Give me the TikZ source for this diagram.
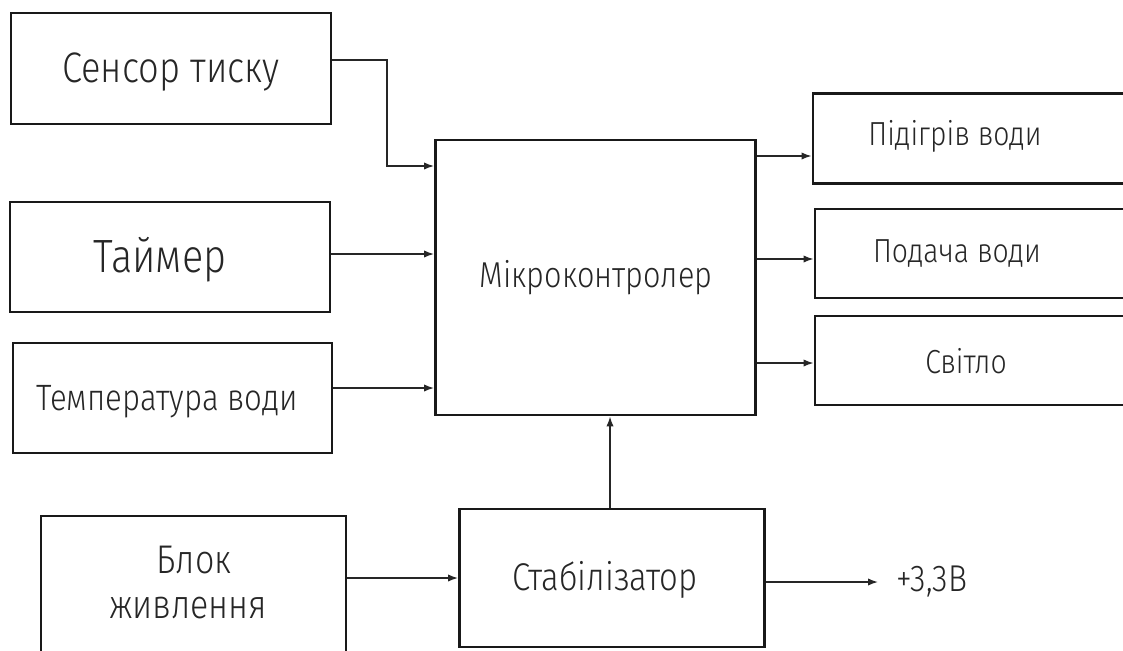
\documentclass[tikz,border=0pt]{standalone}
\usepackage{fontspec}
\setmainfont{Fira Sans}[UprightFont={* Light}, FakeStretch=0.85]
\usetikzlibrary{arrows.meta}
\begin{document}
\begin{tikzpicture}[x=0.75pt, y=-0.75pt,
  box/.style={draw=black!90, line width=2.2pt, rectangle, inner sep=0pt},
  conn/.style={draw=black!85, line width=1.1pt, -{Latex[length=7.5pt,width=5.5pt]}},
  lbl/.style={anchor=base, inner sep=0pt, text=black!85}]
  \clip (0,0) rectangle (1123,650);
  \fill[white] (0,0) rectangle (1123,650);

  % input blocks
  \node[box, minimum width=240pt, minimum height=83.25pt] (sensor) at (171,68.5) {};
  \node[box, minimum width=240pt, minimum height=82.5pt] (timer) at (170,257) {};
  \node[box, minimum width=239.25pt, minimum height=82.5pt] (temp) at (172.5,398) {};

  % controller
  \node[box, minimum width=240pt, minimum height=206.25pt] (mcu) at (595.5,277.5) {};

  % output blocks (running past the right edge)
  \node[box, minimum width=247.5pt, minimum height=67.5pt] (heat) at (978,138.5) {};
  \node[box, minimum width=246pt, minimum height=66.75pt] (feed) at (979,253.5) {};
  \node[box, minimum width=246pt, minimum height=66.75pt] (light) at (979,360.5) {};

  % power supply chain
  \node[box, minimum width=228.75pt, minimum height=120pt] (psu) at (193.5,596) {};
  \node[box, minimum width=228.75pt, minimum height=103.5pt] (stab) at (612,578) {};

  % labels
  \node[lbl, font=\fontsize{32}{36}\selectfont] (tsensor) at (171,82) {Сенсор тиску};
  \node[lbl, font=\fontsize{35}{40}\selectfont] (ttimer) at (160,272) {Таймер};
  \node[lbl, font=\fontsize{27.5}{32}\selectfont] (ttemp) at (167,410) {Температура води};
  \node[lbl, font=\fontsize{27}{31}\selectfont] (tmcu) at (596,287) {Мікроконтролер};
  \node[lbl, font=\fontsize{25}{29}\selectfont] (theat) at (955,145) {Підігрів води};
  \node[lbl, font=\fontsize{25}{29}\selectfont] (tfeed) at (957,262) {Подача води};
  \node[lbl, font=\fontsize{25}{29}\selectfont] (tlight) at (966,373) {Світло};
  \node[lbl, font=\fontsize{30}{34}\selectfont] (tpsu1) at (194,573) {Блок};
  \node[lbl, font=\fontsize{30}{34}\selectfont] (tpsu2) at (188,618) {живлення};
  \node[lbl, font=\fontsize{29}{33}\selectfont] (tstab) at (605,590) {Стабілізатор};
  \node[lbl, font=\fontsize{28}{32}\selectfont] (tvout) at (932,591) {+3,3В};

  \coordinate (bend) at (387,60);
  \coordinate (vout) at (878,582);

  % connectors
  \draw[conn] (sensor.east |- bend) -- (bend) |- (mcu.west |- 0,166);
  \draw[conn] (timer.east |- 0,254) -- (mcu.west |- 0,254);
  \draw[conn] (temp.east |- 0,388) -- (mcu.west |- 0,388);
  \draw[conn] (mcu.east |- 0,156) -- (heat.west |- 0,156);
  \draw[conn] (mcu.east |- 0,259) -- (feed.west |- 0,259);
  \draw[conn] (mcu.east |- 0,363) -- (light.west |- 0,363);
  \draw[conn] (stab.north -| 610,0) -- (mcu.south -| 610,0);
  \draw[conn] (psu.east |- 0,578) -- (stab.west |- 0,578);
  \draw[conn] (stab.east |- vout) -- (vout);
\end{tikzpicture}
\end{document}
